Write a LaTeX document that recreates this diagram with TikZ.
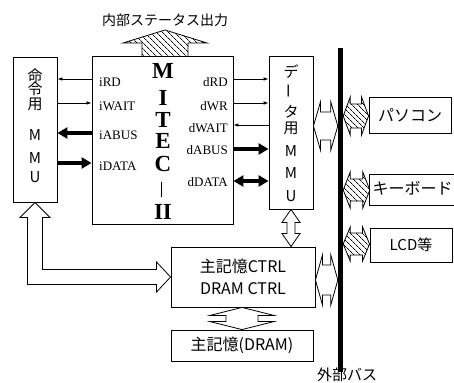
\documentclass[tikz,border=0pt]{standalone}
\usepackage{fontspec}
\setmainfont{Liberation Serif}
\newfontfamily\jp{Noto Sans CJK JP}
\usetikzlibrary{arrows.meta,patterns.meta,calc}
\newcommand\hdbl[6]{% style, left tip, right tip, H, S, L
  \draw[#1] (#2) -- ++(#6,-#4) -- ++(0,#4-#5) -- ($(#3)+(-#6,-#5)$) -- ++(0,#5-#4) -- (#3)
   -- ++(-#6,#4) -- ++(0,#5-#4) -- ($(#2)+(#6,#5)$) -- ++(0,#4-#5) -- cycle;}
\newcommand\vdbl[6]{% style, top tip, bottom tip, H, S, L
  \draw[#1] (#2) -- ++(#4,#6) -- ++(#5-#4,0) -- ($(#3)+(#5,-#6)$) -- ++(#4-#5,0) -- (#3)
   -- ++(-#4,-#6) -- ++(#4-#5,0) -- ($(#2)+(-#5,#6)$) -- ++(#5-#4,0) -- cycle;}
\begin{document}
\begin{tikzpicture}[x=1pt,y=-1pt,
  box/.style={draw,line width=0.9pt,inner sep=0pt},
  sig/.style={font=\fontsize{13}{13}\selectfont,inner sep=0pt},
  thinarr/.style={line width=0.7pt,-{Latex[length=5pt,width=3.5pt]}},
  thickarr/.style={line width=4pt,-{Triangle[length=10pt,width=11pt]}},
  outl/.style={draw,line width=0.8pt,fill=white,line join=miter},
  hatch/.style={draw,line width=0.8pt,pattern={Lines[angle=-45,distance=4pt,line width=0.7pt]}},
  mitecl/.style={font=\bfseries\fontsize{23}{23}\selectfont,inner sep=0pt,text height=13pt,text depth=0pt},
  jpl/.style={font=\jp\fontsize{15}{15}\selectfont,inner sep=0pt},
]
\useasboundingbox (0,0) rectangle (454,382);

% boxes
\node[box,minimum width=44pt,minimum height=145pt] (immu) at (35,129.5) {};
\node[box,minimum width=141pt,minimum height=168pt] (mitec) at (162.5,140) {};
\node[box,minimum width=44pt,minimum height=153pt] (dmmu) at (291,132.5) {};
\node[box,minimum width=144pt,minimum height=60pt,align=center,
      font=\jp\fontsize{16}{22}\selectfont] (ctrl) at (243,277) {主記憶CTRL\\DRAM CTRL};
\node[box,minimum width=142pt,minimum height=31pt,
      font=\jp\fontsize{16}{16}\selectfont] (dram) at (242,345.5) {主記憶(DRAM)};
\node[draw=none,fill=black,inner sep=0pt,minimum width=5pt,minimum height=324pt] (bus) at (340.5,210) {};
\node[box,minimum width=82pt,minimum height=36pt,font=\jp\fontsize{16}{16}\selectfont] (pc) at (410,115) {パソコン};
\node[inner sep=0pt,minimum width=84pt,minimum height=30pt] (kb) at (412,190) {};
\draw[line width=0.9pt] (kb.north east) -- (kb.north west) -- (kb.south west) -- (kb.south east);
\node[jpl,font=\jp\fontsize{16}{16}\selectfont] (kbt) at (412.5,188) {キーボード};
\node[box,minimum width=82pt,minimum height=34pt,font=\jp\fontsize{15}{15}\selectfont] (lcd) at (411,245) {LCD等};

% labels
\node[font=\jp\fontsize{14}{14}\selectfont,inner sep=0pt] (stat) at (165,20) {内部ステータス出力};
\node[font=\jp\fontsize{15}{15}\selectfont,inner sep=0pt] (busl) at (347,375) {外部バス};

% left MMU text
\node[jpl] (im1) at (35,75.5) {命};
\node[jpl] (im2) at (35,89) {令};
\node[jpl] (im3) at (35,104) {用};
\node[jpl] (im4) at (35,135) {M};
\node[jpl] (im5) at (35,158.5) {M};
\node[jpl] (im6) at (35,177.5) {U};

% data MMU text
\node[jpl] (dm1) at (291,72) {デ};
\node[jpl,rotate=90] (dm2) at (291,91) {ー};
\node[jpl] (dm3) at (291,112) {タ};
\node[jpl] (dm4) at (291,128) {用};
\node[jpl] (dm5) at (291,151) {M};
\node[jpl] (dm6) at (291,173) {M};
\node[jpl] (dm7) at (291,196) {U};

% MITEC-II vertical
\node[mitecl] (m1) at (163,72.5) {M};
\node[mitecl] (m2) at (163,99) {I};
\node[mitecl] (m3) at (163,121) {T};
\node[mitecl] (m4) at (163,142) {E};
\node[mitecl] (m5) at (163,165) {C};
\node[font=\bfseries\fontsize{15}{15}\selectfont,inner sep=0pt,rotate=90] (m6) at (163,190) {—};
\node[mitecl] (m7) at (163,213) {II};

% signal labels
\node[sig,anchor=west] (iRD) at (99,82) {iRD};
\node[sig,anchor=west] (iWAIT) at (99,106) {iWAIT};
\node[sig,anchor=west] (iABUS) at (99,135) {iABUS};
\node[sig,anchor=west] (iDATA) at (99,166) {iDATA};
\node[sig,anchor=east] (dRD) at (228,82) {dRD};
\node[sig,anchor=east] (dWR) at (228,106) {dWR};
\node[sig,anchor=east] (dWAIT) at (228,128) {dWAIT};
\node[sig,anchor=east] (dABUS) at (228,150) {dABUS};
\node[sig,anchor=east] (dDATA) at (228,182) {dDATA};

% signal arrows
\draw[thinarr] (mitec.west |- 0,79) -- (immu.east |- 0,79);
\draw[thinarr] (immu.east |- 0,103) -- (mitec.west |- 0,103);
\draw[thickarr] (mitec.west |- 0,133) -- (immu.east |- 0,133);
\draw[thickarr] (immu.east |- 0,163) -- (mitec.west |- 0,163);
\draw[thinarr] (mitec.east |- 0,79) -- (dmmu.west |- 0,79);
\draw[thinarr] (mitec.east |- 0,103) -- (dmmu.west |- 0,103);
\draw[thinarr] (dmmu.west |- 0,125) -- (mitec.east |- 0,125);
\draw[thickarr] (mitec.east |- 0,149) -- (dmmu.west |- 0,149);
\draw[line width=4pt,{Triangle[length=10pt,width=11pt]}-{Triangle[length=10pt,width=11pt]}] (mitec.east |- 0,181) -- (dmmu.west |- 0,181);

% status output hatched arrow
\draw[hatch] (142,56) -- (142,43) -- (123,43) -- (165,30) -- (207,43) -- (188,43) -- (188,56);

% block arrows
\hdbl{outl}{dmmu.east |- 0,126}{bus.west |- 0,126}{24}{14}{7}
\hdbl{outl}{ctrl.east |- 0,280}{bus.west |- 0,280}{25}{15}{7}
\hdbl{hatch}{bus.east |- 0,116}{pc.west |- 0,116}{19}{12}{7}
\hdbl{hatch}{bus.east |- 0,190}{kb.west |- 0,190}{18}{11}{7}
\hdbl{hatch}{bus.east |- 0,244}{lcd.west |- 0,244}{17}{11}{7}
\vdbl{outl}{dmmu.south}{ctrl.north -| dmmu.south}{9}{4}{13}
\vdbl{outl}{ctrl.south -| dram.north}{dram.north}{32}{16}{8}

% L-shaped arrow
\draw[outl] (immu.south) -- ++(15,15) -- ++(-7.5,0) -- ($(immu.south |- ctrl.west)+(7.5,-7.5)$)
  -- ($(ctrl.west)+(-14,-7.5)$) -- ++(0,-7.5) -- (ctrl.west) -- ++(-14,15) -- ++(0,-7.5)
  -- ($(immu.south |- ctrl.west)+(-7.5,7.5)$) -- ($(immu.south)+(-7.5,15)$) -- ++(-7.5,0) -- cycle;
\end{tikzpicture}
\end{document}
